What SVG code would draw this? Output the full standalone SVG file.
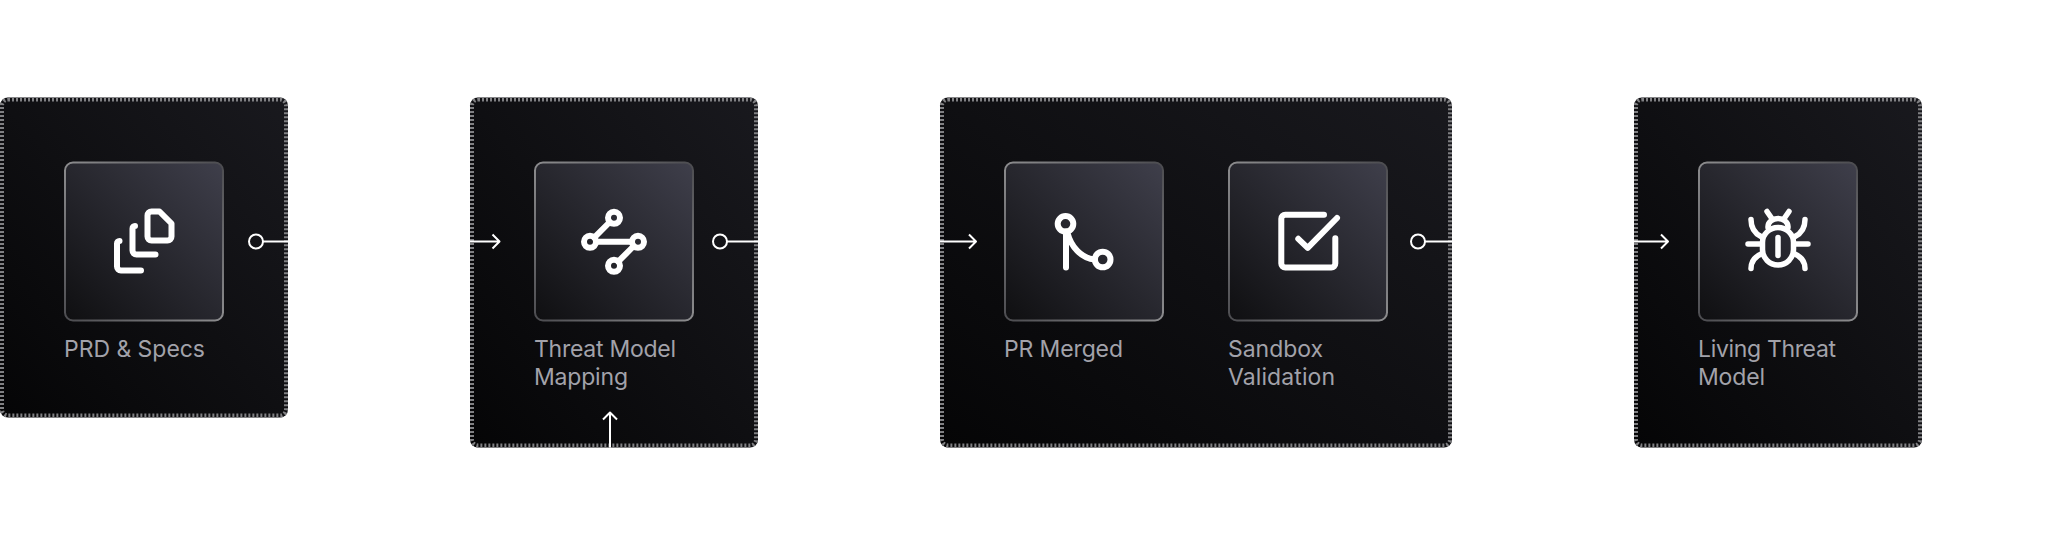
<svg xmlns="http://www.w3.org/2000/svg" width="2046" height="538" viewBox="0 0 2046 538">
<style>
.card{stroke:#808083;stroke-width:4;stroke-dasharray:2 2}
.cardbg{fill:url(#cg)}
.box{fill:url(#bg);stroke:url(#bs);stroke-width:2}
.lbl{font-family:"Inter","Liberation Sans",sans-serif;font-size:23px;fill:#a2a2aa}
.ic{fill:none;stroke:#fff;stroke-width:6;stroke-linecap:round;stroke-linejoin:round}
.cn{fill:none;stroke:#fff;stroke-width:2;stroke-linecap:butt;stroke-linejoin:round}
</style>
<defs>
<linearGradient id="cg" x1="0" y1="1" x2="1" y2="0"><stop offset="0" stop-color="#050506"/><stop offset="1" stop-color="#19191e"/></linearGradient>
<linearGradient id="bg" x1="0" y1="1" x2="1" y2="0"><stop offset="0" stop-color="#0f0f11"/><stop offset="1" stop-color="#3f3f4b"/></linearGradient>
<linearGradient id="bs" x1="0" y1="0" x2="1" y2="1"><stop offset="0" stop-color="#8c8c8e"/><stop offset=".5" stop-color="#4c4c50"/><stop offset="1" stop-color="#8c8c8e"/></linearGradient>
</defs>
<rect width="2046" height="538" fill="#fff"/>
<g transform="translate(0 -0.5)">
<g id="node-prd">
<rect class="cardbg" x="0" y="98" width="288" height="320" rx="8"/>
<rect class="card" x="2" y="100" width="284" height="316" rx="6" fill="none"/>
<rect class="box" x="65" y="163" width="158" height="158" rx="8"/>
<g class="ic">
<path d="M147.500 216a4 4 0 0 1 4-4h8l12 12v13a4 4 0 0 1-4 4h-16a4 4 0 0 1-4-4z"/>
<path d="M135 226.500a2.500 2.500 0 0 0-2.500 2.500v22a4 4 0 0 0 4 4h19"/>
<path d="M119.500 241.500a2.500 2.500 0 0 0-2.500 2.500v23a4 4 0 0 0 4 4h20"/>
</g>
<text class="lbl" x="64" y="357.500" textLength="141">PRD &amp; Specs</text>
</g>
<g id="node-threat-mapping">
<rect class="cardbg" x="470" y="98" width="288" height="350" rx="8"/>
<rect class="card" x="472" y="100" width="284" height="346" rx="6" fill="none"/>
<rect class="box" x="535" y="163" width="158" height="158" rx="8"/>
<g class="ic">
<circle cx="614" cy="218.300" r="6"/><circle cx="590" cy="242.300" r="6"/><circle cx="638" cy="242.300" r="6"/><circle cx="614" cy="266.300" r="6"/>
<path d="M594.200 238.100L609.800 222.500M596 242.300H632M633.800 246.500L618.200 262.100"/>
</g>
<text class="lbl" x="534" y="357.500" textLength="142">Threat Model</text>
<text class="lbl" x="534" y="385.500" textLength="94">Mapping</text>
</g>
<g id="node-stage">
<rect class="cardbg" x="940" y="98" width="512" height="350" rx="8"/>
<rect class="card" x="942" y="100" width="508" height="346" rx="6" fill="none"/>
<g id="node-pr-merged">
<rect class="box" x="1005" y="163" width="158" height="158" rx="8"/>
<g class="ic">
<circle cx="1065.500" cy="224.300" r="7.800"/><circle cx="1102.700" cy="260" r="7.800"/>
<path d="M1066 232V268M1067.500 233.500C1071 247 1081 259 1095 260"/>
</g>
<text class="lbl" x="1004" y="357.500" textLength="119">PR Merged</text>
</g>
<g id="node-sandbox">
<rect class="box" x="1229" y="163" width="158" height="158" rx="8"/>
<g class="ic">
<path d="M1324 215.300H1285.300a4 4 0 0 0-4 4V264a4 4 0 0 0 4 4H1331.300a4 4 0 0 0 4-4V238.700"/>
<path d="M1298.300 239.300L1307.700 248.300L1337 218.500"/>
</g>
<text class="lbl" x="1228" y="357.500" textLength="95">Sandbox</text>
<text class="lbl" x="1228" y="385.500" textLength="107">Validation</text>
</g>
</g>
<g id="node-living-threat">
<rect class="cardbg" x="1634" y="98" width="288" height="350" rx="8"/>
<rect class="card" x="1636" y="100" width="284" height="346" rx="6" fill="none"/>
<rect class="box" x="1699" y="163" width="158" height="158" rx="8"/>
<g class="ic" style="stroke-width:5.500">
<path d="M1762.500 243a15.500 15 0 0 1 31 0v7a15.500 15.500 0 0 1-31 0z"/>
<path d="M1778 238V256"/>
<path d="M1768 228V227a10 8 0 0 1 20 0V228M1767 212L1771.500 218.500M1789 212L1784.500 218.500"/>
<path d="M1748 244.500H1760M1796 244.500H1808"/>
<path d="M1751 220C1751 229 1755 234 1761 237M1805 220C1805 229 1801 234 1795 237"/>
<path d="M1751 269C1751 262 1755 257 1762 254M1805 269C1805 262 1801 257 1794 254"/>
</g>
<text class="lbl" x="1698" y="357.500" textLength="138">Living Threat</text>
<text class="lbl" x="1698" y="385.500" textLength="67">Model</text>
</g>
<g id="connectors" class="cn">
<circle cx="256" cy="242" r="7"/><path d="M263 242H288"/>
<path d="M470 242H499.500M492.500 235L499.500 242L492.500 249"/>
<circle cx="720" cy="242" r="7"/><path d="M727 242H758"/>
<path d="M610 448V413M603 420L610 413L617 420"/>
<path d="M940 242H976M969 235L976 242L969 249"/>
<circle cx="1418" cy="242" r="7"/><path d="M1425 242H1452"/>
<path d="M1634 242H1668M1661 235L1668 242L1661 249"/>
</g>
</g>
</svg>
